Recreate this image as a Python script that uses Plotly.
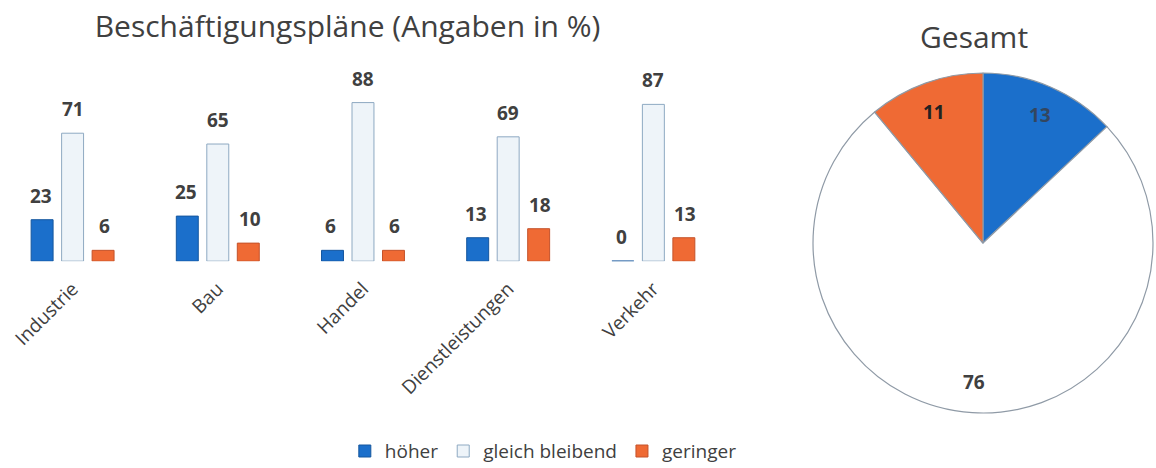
import math
import plotly.graph_objects as go

categories = ["Industrie", "Bau", "Handel", "Dienstleistungen", "Verkehr"]
series_names = ["höher", "gleich bleibend", "geringer"]
hoeher = [23, 25, 6, 13, 0]
gleich = [71, 65, 88, 69, 87]
geringer = [6, 10, 6, 18, 13]
pie_labels = ["höher", "gleich bleibend", "geringer"]
pie_values = [13, 76, 11]

BLUE = "#1b6fcb"
PALE = "#eef4f9"
ORANGE = "#ef6a34"
TXT = "#404040"
FONT = "Open Sans"
W, H = 1156, 468

fig = go.Figure()
series = [hoeher, gleich, geringer]
fills = [BLUE, PALE, ORANGE]
lines = ["#15569e", "#8ea9c2", "#c4522a"]
for name, vals, fc, lc in zip(series_names, series, fills, lines):
    fig.add_trace(go.Bar(
        x=categories, y=vals, name=name,
        marker=dict(color=fc, line=dict(color=lc, width=1)),
        xaxis="x", yaxis="y",
    ))

# value labels above bars
shifts = [-32, 0, 32]
for vals, sh in zip(series, shifts):
    for c, v in zip(categories, vals):
        fig.add_annotation(x=c, y=v, xref="x", yref="y", text=f"<b>{v}</b>",
                           showarrow=False, xshift=sh, yshift=24,
                           font=dict(size=19, color=TXT, family=FONT))

pie_dom_x = [0.7033, 0.9974]
pie_dom_y = [0.1175, 0.844]
fig.add_trace(go.Pie(
    labels=pie_labels, values=pie_values, sort=False, direction="clockwise",
    rotation=0, showlegend=False,
    marker=dict(colors=[BLUE, "#ffffff", ORANGE], line=dict(color="#8f9aa6", width=1.2)),
    textinfo="none",
    domain=dict(x=pie_dom_x, y=pie_dom_y),
    hoverinfo="label+value",
))

# pie value labels near the outer edge
cx = sum(pie_dom_x) / 2
cy = sum(pie_dom_y) / 2
R = (pie_dom_y[1] - pie_dom_y[0]) * H / 2
total = sum(pie_values)
cum = 0
pie_txt_colors = ["#33465f", TXT, "#222222"]
for v, col in zip(pie_values, pie_txt_colors):
    ang = (cum + v / 2) / total * 2 * math.pi
    cum += v
    fig.add_annotation(x=cx, y=cy, xref="paper", yref="paper", text=f"<b>{v}</b>",
                       showarrow=False, xanchor="center", yanchor="middle",
                       xshift=0.845 * R * math.sin(ang), yshift=0.82 * R * math.cos(ang),
                       font=dict(size=19, color=col, family=FONT))

fig.add_annotation(x=0.8426, y=0.921, xref="paper", yref="paper", text="Gesamt",
                   showarrow=False, xanchor="center", yanchor="middle",
                   font=dict(size=30, color=TXT, family=FONT))

fig.update_layout(
    width=W, height=H,
    margin=dict(l=0, r=0, t=0, b=0, autoexpand=False),
    paper_bgcolor="white", plot_bgcolor="white",
    barmode="group", bargap=0.37, bargroupgap=0.28,
    title=dict(text="Beschäftigungspläne (Angaben in %)", x=0.3006, y=0.943,
               xanchor="center", yanchor="middle",
               font=dict(size=30, color=TXT, family=FONT)),
    xaxis=dict(domain=[0, 0.628], tickangle=-45, showline=False, showgrid=False,
               zeroline=False, ticks="", automargin=False, ticklabelstandoff=12,
               tickfont=dict(size=19, color=TXT, family=FONT)),
    yaxis=dict(domain=[0.442, 0.827], range=[0, 100], visible=False, automargin=False),
    legend=dict(orientation="h", x=0.470, y=0.036, xanchor="center", yanchor="middle",
                font=dict(size=19, color=TXT, family=FONT), traceorder="normal",
                itemwidth=30),
    font=dict(family=FONT, color=TXT),
)

fig.write_html("out.html", config={"displayModeBar": False},
               post_script="document.body.style.margin='0';")
